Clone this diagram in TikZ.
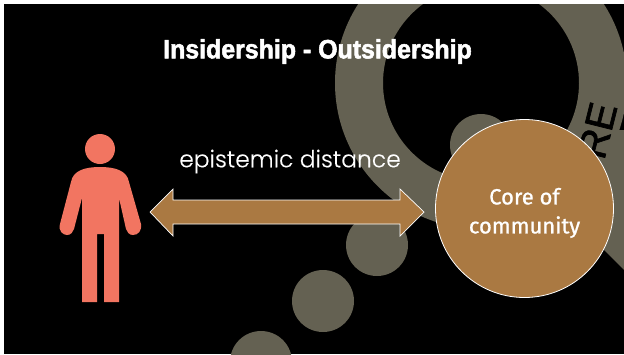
\documentclass[tikz,border=0pt]{standalone}
\usepackage{fontspec}
\setmainfont{Liberation Sans}
\newfontfamily\titlefont{Liberation Sans Bold}[FakeStretch=0.94,FakeBold=2]
\newfontfamily\markfont{Liberation Sans}[FakeBold=1.6]
\newfontfamily\geofont{Poppins Light}[FakeBold=0.3]
\newfontfamily\corefont{Fira Sans}[FakeBold=0.9]
\definecolor{bgring}{HTML}{646152}
\definecolor{bronze}{HTML}{AA7942}
\definecolor{coral}{HTML}{F27561}
\tikzset{
  dot/.style={fill=bgring,draw=none},
  blockarrow/.style={fill=bronze,draw=white,line width=0.7pt,line join=miter},
  corecircle/.style={circle,fill=bronze,draw=white,line width=0.8pt,minimum size=178pt,inner sep=0pt},
  figure/.style={fill=coral,draw=none},
}
\begin{document}
\begin{tikzpicture}[x=1pt,y=-1pt]
\useasboundingbox (0,0) rectangle (624,354);
\fill[white] (0,0) rectangle (624,354);
\fill[black] (4,4) rectangle (624,354);
\begin{scope}
\clip (4,4) rectangle (624,354);
% ring and tail
\fill[bgring,even odd rule] (481,83) circle[radius=146pt] (481,83) circle[radius=98pt];
\fill[bgring] (560,206) -- (624,270) -- (624,130) -- (590,130) -- cycle;
% trailing dots
\fill[dot] (481,145) circle[radius=31pt];
\fill[dot] (377,245) circle[radius=31pt];
\fill[dot] (323,301) circle[radius=31pt];
\fill[dot] (261,362) circle[radius=31pt];
\node[rotate=76,text=black,inner sep=0pt,font=\markfont\fontsize{40}{40}\selectfont] (re) at (597.5,130.5) {RE};
\end{scope}
% double block arrow
\path[blockarrow] (150,212) -- (173,189) -- (173,200) -- (400,200) -- (400,189) -- (424,212)
  -- (400,236) -- (400,224) -- (173,224) -- (173,236) -- cycle;
% core
\node[corecircle] (core) at (524.5,208.5) {};
\node[align=center,text=white,font=\corefont\fontsize{22}{29}\selectfont] (corelabel) at (524.5,213)
  {Core of\\community};
% person
\fill[figure] (100,149) circle[radius=15pt];
\fill[figure] (100,167) .. controls (86,167) and (73,170) .. (71,182)
  -- (60,224) .. controls (58,231) and (63,235) .. (67,235)
  .. controls (71,235) and (73,232) .. (74,229)
  -- (82,198) -- (82,302) -- (97,302) -- (97,234) -- (104,234) -- (104,302) -- (119,302) -- (119,198)
  -- (126,229) .. controls (127,232) and (129,235) .. (133,235)
  .. controls (138,235) and (142,231) .. (141,224)
  -- (129,182) .. controls (127,170) and (114,167) .. (100,167) -- cycle;
% texts
\node[text=white,font=\titlefont\fontsize{26.5}{26.5}\selectfont] (title) at (317.5,51.5) {Insidership - Outsidership};
\node[text=white,font=\geofont\fontsize{23.4}{23.4}\selectfont] (dist) at (290,161.5) {epistemic distance};
\end{tikzpicture}
\end{document}
